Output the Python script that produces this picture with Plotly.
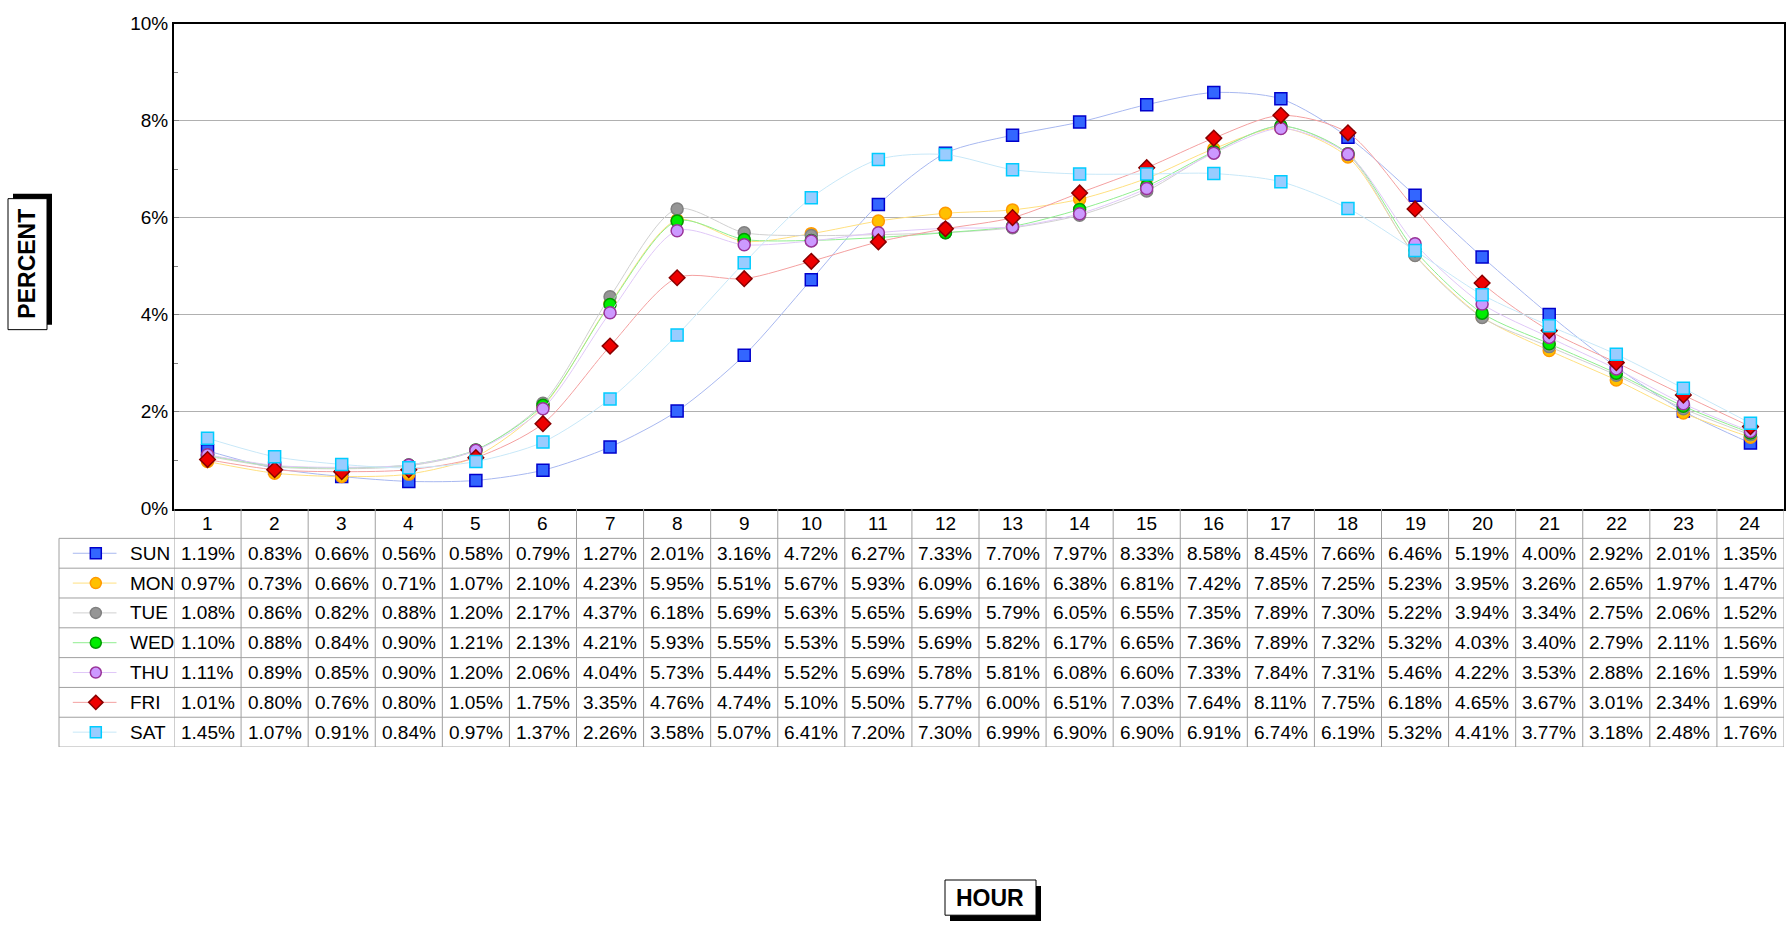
import plotly.graph_objects as go

hours = list(range(1, 25))
days = ["SUN", "MON", "TUE", "WED", "THU", "FRI", "SAT"]

sun = [1.19, 0.83, 0.66, 0.56, 0.58, 0.79, 1.27, 2.01, 3.16, 4.72, 6.27, 7.33, 7.70, 7.97, 8.33, 8.58, 8.45, 7.66, 6.46, 5.19, 4.00, 2.92, 2.01, 1.35]
mon = [0.97, 0.73, 0.66, 0.71, 1.07, 2.10, 4.23, 5.95, 5.51, 5.67, 5.93, 6.09, 6.16, 6.38, 6.81, 7.42, 7.85, 7.25, 5.23, 3.95, 3.26, 2.65, 1.97, 1.47]
tue = [1.08, 0.86, 0.82, 0.88, 1.20, 2.17, 4.37, 6.18, 5.69, 5.63, 5.65, 5.69, 5.79, 6.05, 6.55, 7.35, 7.89, 7.30, 5.22, 3.94, 3.34, 2.75, 2.06, 1.52]
wed = [1.10, 0.88, 0.84, 0.90, 1.21, 2.13, 4.21, 5.93, 5.55, 5.53, 5.59, 5.69, 5.82, 6.17, 6.65, 7.36, 7.89, 7.32, 5.32, 4.03, 3.40, 2.79, 2.11, 1.56]
thu = [1.11, 0.89, 0.85, 0.90, 1.20, 2.06, 4.04, 5.73, 5.44, 5.52, 5.69, 5.78, 5.81, 6.08, 6.60, 7.33, 7.84, 7.31, 5.46, 4.22, 3.53, 2.88, 2.16, 1.59]
fri = [1.01, 0.80, 0.76, 0.80, 1.05, 1.75, 3.35, 4.76, 4.74, 5.10, 5.50, 5.77, 6.00, 6.51, 7.03, 7.64, 8.11, 7.75, 6.18, 4.65, 3.67, 3.01, 2.34, 1.69]
sat = [1.45, 1.07, 0.91, 0.84, 0.97, 1.37, 2.26, 3.58, 5.07, 6.41, 7.20, 7.30, 6.99, 6.90, 6.90, 6.91, 6.74, 6.19, 5.32, 4.41, 3.77, 3.18, 2.48, 1.76]
series = [sun, mon, tue, wed, thu, fri, sat]

# marker style per day: symbol, fill, edge, line colour
styles = [
    ("square", "#3366ff", "#0000cc", "#a8b8f0"),
    ("circle", "#ffc000", "#ff9900", "#ffe080"),
    ("circle", "#969696", "#808080", "#d0d0d0"),
    ("circle", "#00ee00", "#009900", "#90ee90"),
    ("circle", "#cc99ff", "#993399", "#e0c8f8"),
    ("diamond", "#ee0000", "#880000", "#f4a0a0"),
    ("square", "#99ccff", "#00ccff", "#c8e8f8"),
]

W, H = 1787, 935
px = lambda v: v / W
py = lambda v: 1 - v / H
FONT = "Liberation Sans, Arial, sans-serif"

fig = go.Figure()
for name, vals, (sym, fill, edge, lc) in zip(days, series, styles):
    fig.add_trace(go.Scatter(
        x=hours, y=vals, name=name, mode="lines+markers",
        line=dict(color=lc, width=1, shape="spline", smoothing=0.8),
        marker=dict(symbol=sym, size=12, color=fill, line=dict(color=edge, width=1.5)),
    ))

# legend keys inside the table
for i, (sym, fill, edge, lc) in enumerate(styles):
    yy = 6.5 - i
    fig.add_trace(go.Scatter(
        x=[0.12, 0.32, 0.5], y=[yy, yy, yy], xaxis="x2", yaxis="y2",
        mode="lines", line=dict(color=lc, width=1), hoverinfo="skip", showlegend=False))
    fig.add_trace(go.Scatter(
        x=[0.32], y=[yy], xaxis="x2", yaxis="y2", mode="markers",
        marker=dict(symbol=sym, size=11, color=fill, line=dict(color=edge, width=1.5)),
        hoverinfo="skip", showlegend=False))

ann = []
shapes = []
grey = "#a0a0a0"
for h in hours:
    ann.append(dict(x=h, y=7.5, xref="x", yref="y2", text=str(h), showarrow=False,
                    font=dict(size=19, color="black", family=FONT)))
for i, (name, vals) in enumerate(zip(days, series)):
    yy = 6.5 - i
    ann.append(dict(x=0.6, y=yy, xref="x2", yref="y2", text=name, showarrow=False,
                    xanchor="left", font=dict(size=19, color="black", family=FONT)))
    for h, v in zip(hours, vals):
        ann.append(dict(x=h, y=yy, xref="x", yref="y2", text=f"{v:.2f}%", showarrow=False,
                        font=dict(size=19, color="black", family=FONT)))

# table grid lines
x0t, x1t = px(59), px(1784)
for r in range(0, 8):
    shapes.append(dict(type="line", xref="paper", yref="y2", x0=x0t, x1=x1t, y0=r, y1=r,
                       line=dict(color=grey, width=1)))
shapes.append(dict(type="line", xref="paper", yref="y2", x0=x0t, x1=x0t, y0=0, y1=7,
                   line=dict(color=grey, width=1)))
for h in range(0, 25):
    shapes.append(dict(type="line", xref="x", yref="y2", x0=h + 0.5, x1=h + 0.5, y0=0, y1=8,
                       line=dict(color=grey, width=1)))

# boxed axis titles with drop shadow
def boxed(l, t, r, b, dx, dy, text, angle):
    shapes.append(dict(type="rect", xref="paper", yref="paper", x0=px(l + dx), x1=px(r + dx),
                       y0=py(b + dy), y1=py(t + dy), fillcolor="black", line=dict(width=0)))
    shapes.append(dict(type="rect", xref="paper", yref="paper", x0=px(l), x1=px(r),
                       y0=py(b), y1=py(t), fillcolor="white", line=dict(color="black", width=1)))
    ann.append(dict(x=px((l + r) / 2), y=py((t + b) / 2), xref="paper", yref="paper",
                    xanchor="center", yanchor="middle",
                    text=f"<b>{text}</b>", showarrow=False, textangle=angle,
                    font=dict(size=23, color="black", family=FONT)))

boxed(8, 193, 47, 327, 5, -5, "PERCENT", -90)
boxed(945, 890, 1036, 926, 5, 6, "HOUR", 0)

fig.update_layout(
    width=W, height=H, margin=dict(l=0, r=0, t=0, b=0),
    paper_bgcolor="white", plot_bgcolor="white", showlegend=False,
    font=dict(family=FONT, color="black"),
    xaxis=dict(domain=[px(174), px(1784)], range=[0.5, 24.5], showticklabels=False,
               showgrid=False, zeroline=False, showline=True, mirror=True,
               linecolor="black", linewidth=2, ticks=""),
    yaxis=dict(domain=[py(510), py(14)], range=[0, 10], tickvals=[0, 2, 4, 6, 8, 10],
               ticktext=["0%", "2%", "4%", "6%", "8%", "10%"], tickfont=dict(size=19),
               showgrid=True, gridcolor="#b0b0b0", gridwidth=1, zeroline=False,
               showline=True, mirror=True, linecolor="black", linewidth=2,
               ticks="inside", ticklen=5, tickcolor="#808080",
               minor=dict(tickvals=[1, 3, 5, 7, 9], ticks="inside", ticklen=4, tickcolor="#808080")),
    xaxis2=dict(domain=[px(59), px(174)], range=[0, 1], visible=False, anchor="y2"),
    yaxis2=dict(domain=[py(754), py(510)], range=[0, 8], visible=False, anchor="x2"),
    annotations=ann, shapes=shapes,
)

fig.write_html(
    "out.html", config={"displayModeBar": False},
    post_script="var d=document.getElementById('{plot_id}');d.style.position='fixed';"
                "d.style.top='0';d.style.left='0';document.body.style.margin='0';"
                "document.body.style.overflow='hidden';")
